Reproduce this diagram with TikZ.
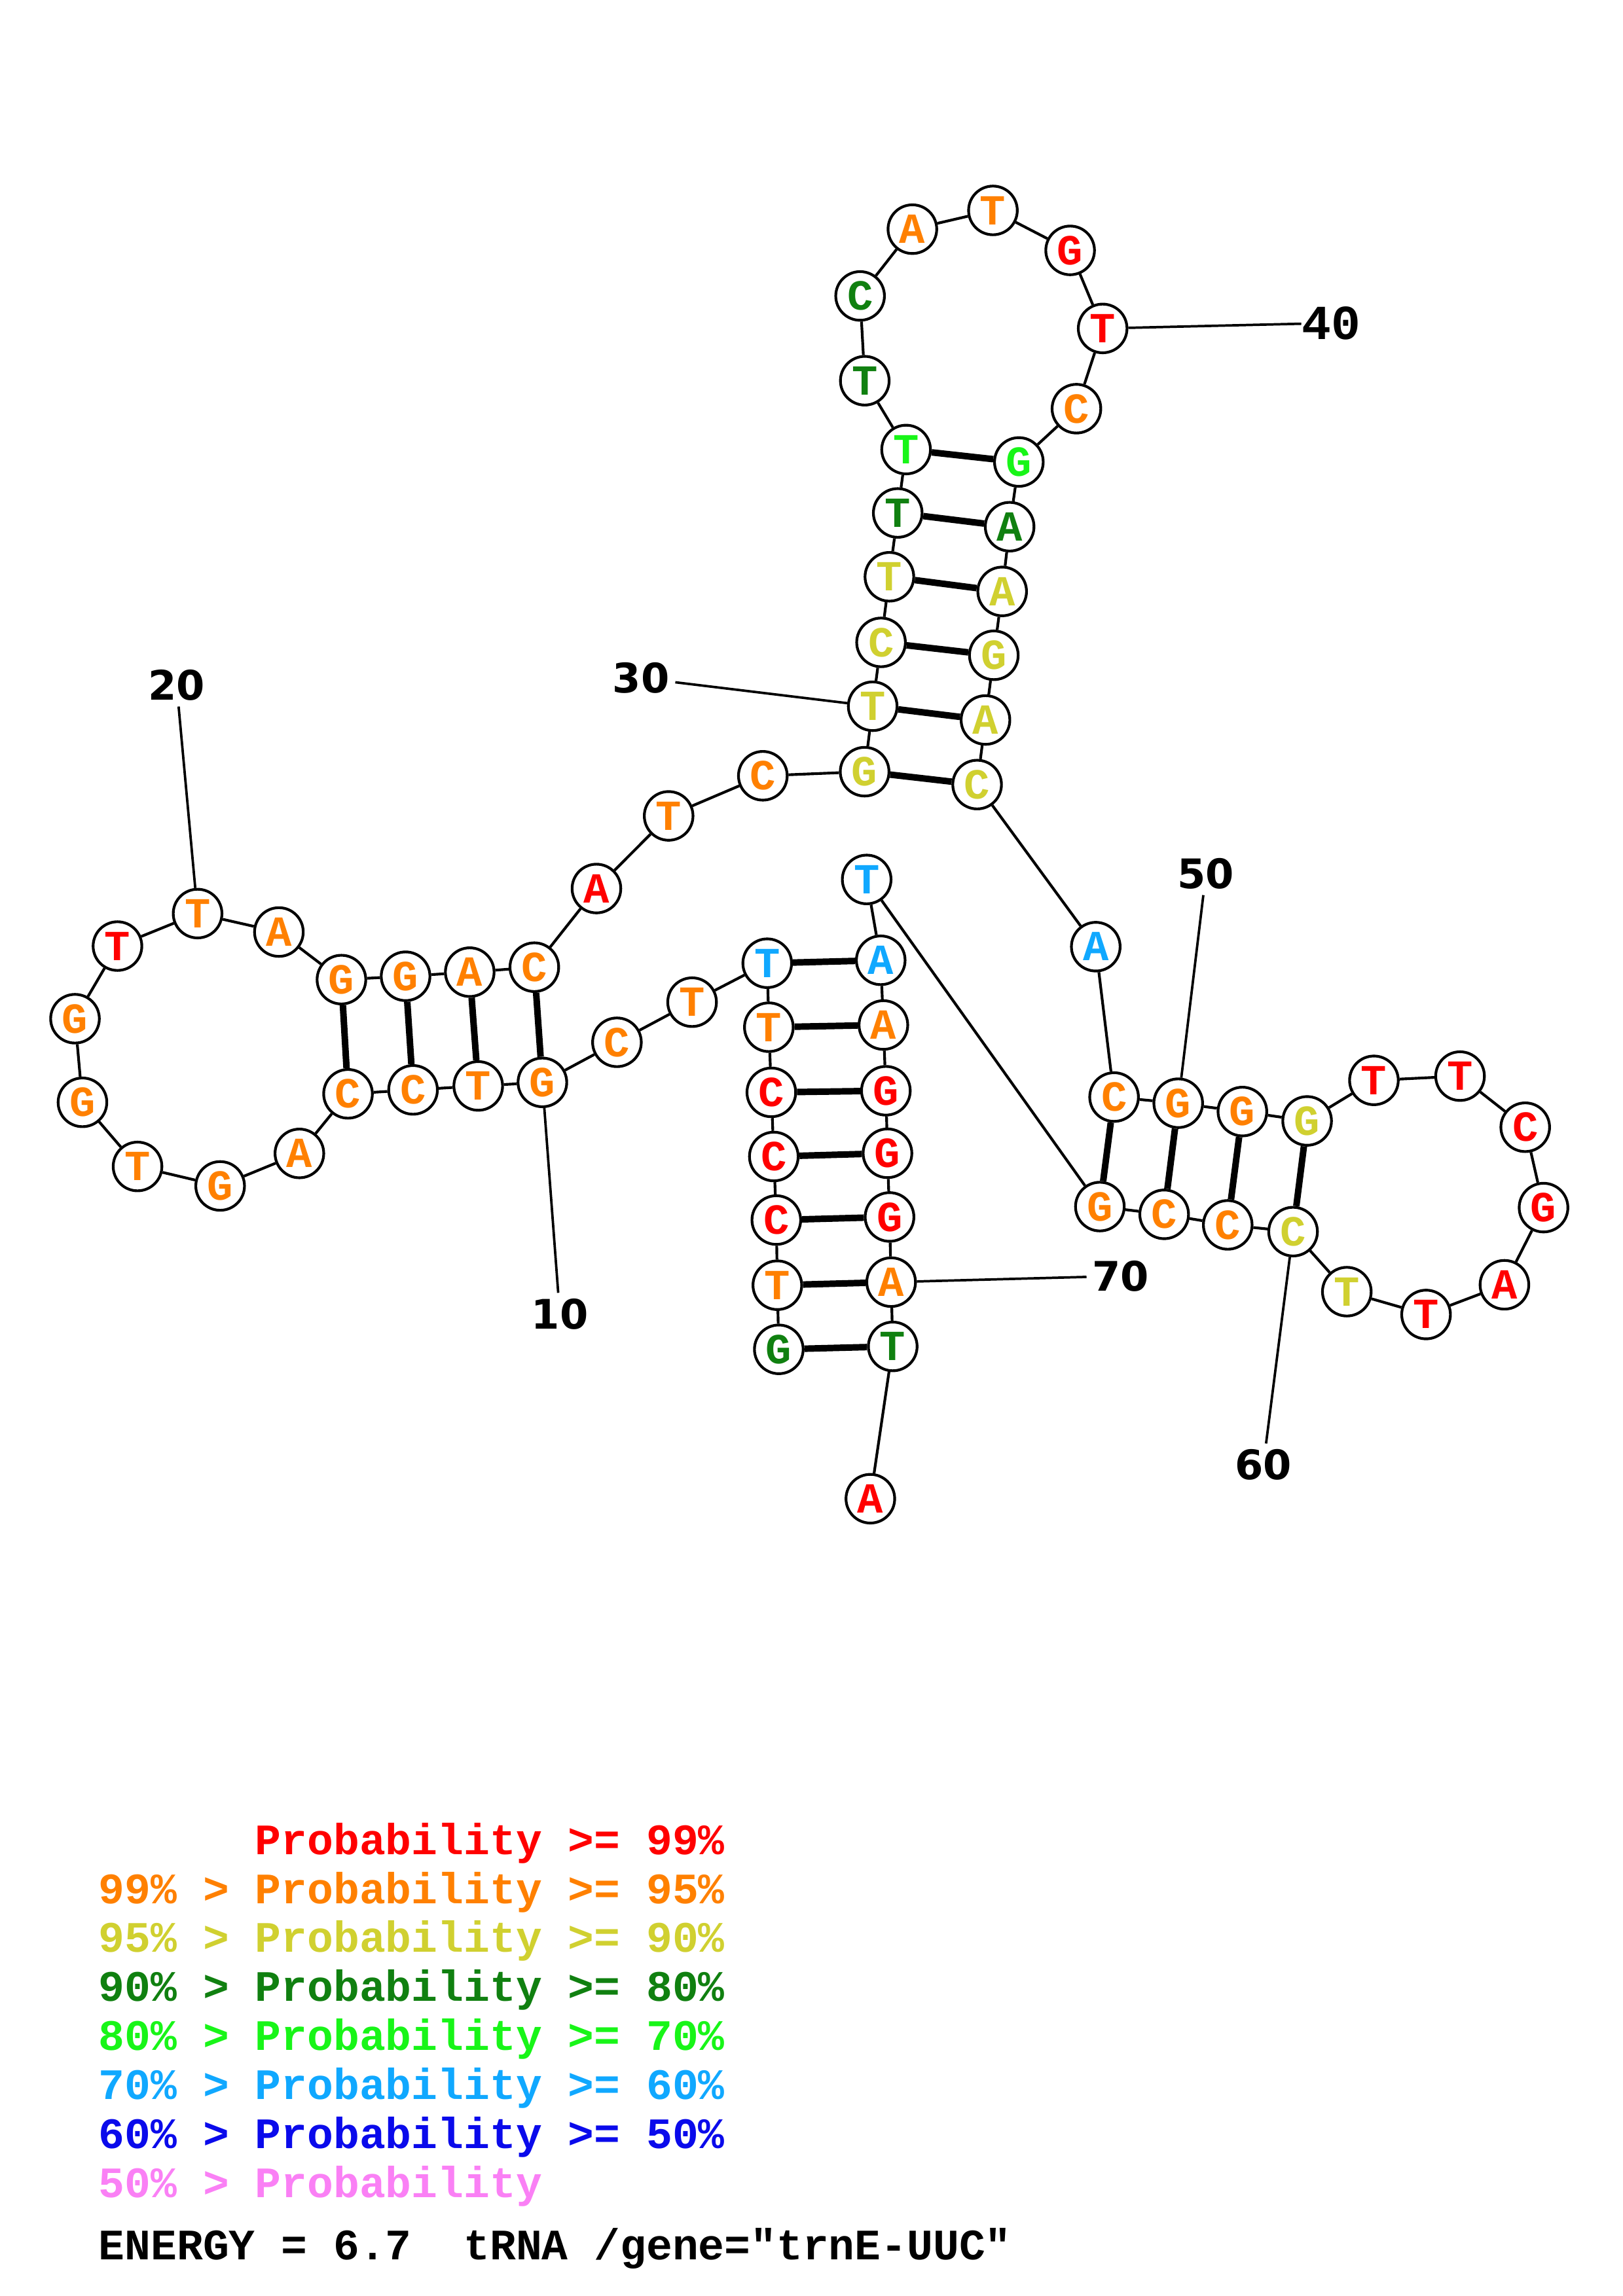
\documentclass[tikz,border=0pt]{standalone}
\usepackage{fontspec}
\newfontfamily\ntfont{Liberation Mono}
\newfontfamily\numfont{DejaVu Sans}
\definecolor{c99}{RGB}{255,0,0}
\definecolor{c95}{RGB}{255,128,0}
\definecolor{c90}{RGB}{208,208,48}
\definecolor{c80}{RGB}{16,128,16}
\definecolor{c70}{RGB}{24,245,24}
\definecolor{c60}{RGB}{16,168,255}
\definecolor{c50}{RGB}{10,10,235}
\definecolor{c00}{RGB}{250,128,245}
\tikzset{
    nt/.style={circle, draw, line width=1pt, minimum size=6.3mm, inner sep=0,
      font=\ntfont\bfseries\fontsize{15.8}{16}\selectfont},
    p99/.style={nt, text=c99},
    p95/.style={nt, text=c95},
    p90/.style={nt, text=c90},
    p80/.style={nt, text=c80},
    p70/.style={nt, text=c70},
    p60/.style={nt, text=c60},
    bb/.style = {line width=1pt},
    bp/.style = {line width=2.4pt},
    lead/.style= {line width=0.9pt},
  }

\begin{document}
\begin{tikzpicture}[x=0.018953cm, y=-0.018953cm,
    num/.style={inner sep=2pt, font=\numfont\bfseries\fontsize{15}{16}\selectfont},
    key/.style={anchor=base west, inner sep=0, font=\ntfont\bfseries\fontsize{16}{16}\selectfont}]
  \useasboundingbox (0,0) rectangle (1108,1568);
  % acceptor, 5' side
  \node (n1) [p80] at (531.7,921.5) {G};
  \node (n2) [p95] at (530.7,877.7) {T} edge [bb] (n1);
  \node (n3) [p99] at (530.0,833.2) {C} edge [bb] (n2);
  \node (n4) [p99] at (528.3,789.8) {C} edge [bb] (n3);
  \node (n5) [p99] at (526.6,746.0) {C} edge [bb] (n4);
  \node (n6) [p95] at (524.9,701.5) {T} edge [bb] (n5);
  \node (n7) [p60] at (523.8,657.8) {T} edge [bb] (n6);
  \node (n8) [p95] at (472.5,684.4) {T} edge [bb] (n7);
  \node (n9) [p95] at (421.2,711.8) {C} edge [bb] (n8);
  % D arm
  \node (n10) [p95] at (370.3,739.2) {G} edge [bb] (n9);
  \node (n11) [p95] at (326.5,741.6) {T} edge [bb] (n10);
  \node (n12) [p95] at (282.0,744.3) {C} edge [bb] (n11);
  \node (n13) [p95] at (237.6,747.0) {C} edge [bb] (n12);
  \node (n14) [p95] at (204.4,787.7) {A} edge [bb] (n13);
  \node (n15) [p95] at (150.3,809.9) {G} edge [bb] (n14);
  \node (n16) [p95] at (93.9,796.6) {T} edge [bb] (n15);
  \node (n17) [p95] at (56.3,752.8) {G} edge [bb] (n16);
  \node (n18) [p95] at (51.2,695.7) {G} edge [bb] (n17);
  \node (n19) [p99] at (80.2,646.1) {T} edge [bb] (n18);
  \node (n20) [p95] at (134.9,623.9) {T} edge [bb] (n19);
  \node (n21) [p95] at (190.4,636.5) {A} edge [bb] (n20);
  \node (n22) [p95] at (233.1,669.0) {G} edge [bb] (n21)
    edge [bp] (n13);
  \node (n23) [p95] at (276.9,666.7) {G} edge [bb] (n22)
    edge [bp] (n12);
  \node (n24) [p95] at (320.7,663.9) {A} edge [bb] (n23)
    edge [bp] (n11);
  \node (n25) [p95] at (364.8,660.5) {C} edge [bb] (n24)
    edge [bp] (n10);
  \node (n26) [p99] at (407.2,606.8) {A} edge [bb] (n25);
  \node (n27) [p95] at (456.5,557.2) {T} edge [bb] (n26);
  \node (n28) [p95] at (520.8,529.8) {C} edge [bb] (n27);
  % anticodon arm
  \node (n29) [p90] at (590.3,527.0) {G} edge [bb] (n28);
  \node (n30) [p90] at (595.8,482.3) {T} edge [bb] (n29);
  \node (n31) [p90] at (601.5,438.7) {C} edge [bb] (n30);
  \node (n32) [p90] at (607.2,393.9) {T} edge [bb] (n31);
  \node (n33) [p80] at (612.9,350.3) {T} edge [bb] (n32);
  \node (n34) [p70] at (618.6,307.0) {T} edge [bb] (n33);
  \node (n35) [p80] at (590.4,260.0) {T} edge [bb] (n34);
  \node (n36) [p80] at (587.2,202.1) {C} edge [bb] (n35);
  \node (n37) [p95] at (622.9,156.5) {A} edge [bb] (n36);
  \node (n38) [p95] at (677.9,143.7) {T} edge [bb] (n37);
  \node (n39) [p99] at (730.6,171.0) {G} edge [bb] (n38);
  \node (n40) [p99] at (752.8,224.3) {T} edge [bb] (n39);
  \node (n41) [p95] at (734.9,279.1) {C} edge [bb] (n40);
  \node (n42) [p70] at (695.6,315.5) {G} edge [bb] (n41)
    edge [bp] (n34);
  \node (n43) [p80] at (689.3,359.7) {A} edge [bb] (n42)
    edge [bp] (n33);
  \node (n44) [p90] at (684.2,403.9) {A} edge [bb] (n43)
    edge [bp] (n32);
  \node (n45) [p90] at (678.5,447.5) {G} edge [bb] (n44)
    edge [bp] (n31);
  \node (n46) [p90] at (672.8,491.7) {A} edge [bb] (n45)
    edge [bp] (n30);
  \node (n47) [p90] at (667.1,535.8) {C} edge [bb] (n46)
    edge [bp] (n29);
  \node (n48) [p60] at (748.1,646.5) {A} edge [bb] (n47);
  % T arm
  \node (n49) [p95] at (760.6,749.2) {C} edge [bb] (n48);
  \node (n50) [p95] at (804.4,753.4) {G} edge [bb] (n49);
  \node (n51) [p95] at (848.2,759.1) {G} edge [bb] (n50);
  \node (n52) [p90] at (892.4,765.5) {G} edge [bb] (n51);
  \node (n53) [p99] at (938.0,737.8) {T} edge [bb] (n52);
  \node (n54) [p99] at (996.8,734.9) {T} edge [bb] (n53);
  \node (n55) [p99] at (1041.3,769.8) {C} edge [bb] (n54);
  \node (n56) [p99] at (1053.8,824.7) {G} edge [bb] (n55);
  \node (n57) [p99] at (1027.1,877.4) {A} edge [bb] (n56);
  \node (n58) [p99] at (973.6,897.7) {T} edge [bb] (n57);
  \node (n59) [p90] at (919.5,882.1) {T} edge [bb] (n58);
  \node (n60) [p90] at (882.8,841.1) {C} edge [bb] (n59)
    edge [bp] (n52);
  \node (n61) [p95] at (838.2,836.5) {C} edge [bb] (n60)
    edge [bp] (n51);
  \node (n62) [p95] at (794.8,829.3) {C} edge [bb] (n61)
    edge [bp] (n50);
  \node (n63) [p95] at (750.9,824.0) {G} edge [bb] (n62)
    edge [bp] (n49);
  % acceptor, 3' side
  \node (n64) [p60] at (591.7,600.6) {T} edge [bb] (n63);
  \node (n65) [p60] at (601.3,655.8) {A} edge [bb] (n64)
    edge [bp] (n7);
  \node (n66) [p95] at (603.1,700.0) {A} edge [bb] (n65)
    edge [bp] (n6);
  \node (n67) [p99] at (604.8,744.9) {G} edge [bb] (n66)
    edge [bp] (n5);
  \node (n68) [p99] at (605.9,787.6) {G} edge [bb] (n67)
    edge [bp] (n4);
  \node (n69) [p99] at (607.3,831.1) {G} edge [bb] (n68)
    edge [bp] (n3);
  \node (n70) [p95] at (608.4,875.6) {A} edge [bb] (n69)
    edge [bp] (n2);
  \node (n71) [p80] at (609.5,919.5) {T} edge [bb] (n70)
    edge [bp] (n1);
  \node (n72) [p99] at (594.2,1023.5) {A} edge [bb] (n71);

  % position numbers
  \node (l10) [num] at (382.2,897.5) {10} edge [lead] (n10);
  \node (l20) [num] at (120.6,467.9) {20} edge [lead] (n20);
  \node (l30) [num] at (437.6,463.1) {30} edge [lead] (n30);
  \node (l40) [num, inner sep=0pt, font=\ntfont\bfseries\fontsize{18}{18}\selectfont]
    at (908.8,220.6) {40} edge [lead] (n40);
  \node (l50) [num] at (823.3,596.7) {50} edge [lead] (n50);
  \node (l60) [num] at (862.5,1000.4) {60} edge [lead] (n60);
  \node (l70) [num] at (765.2,871.4) {70} edge [lead] (n70);

  % legend
  \node (k99) [key, text=c99] at (67,1266.3) {\phantom{99\%~>~}Probability~>=~99\%};
  \node (k95) [key, text=c95] at (67,1299.8) {99\%~>~Probability~>=~95\%};
  \node (k90) [key, text=c90] at (67,1333.3) {95\%~>~Probability~>=~90\%};
  \node (k80) [key, text=c80] at (67,1366.8) {90\%~>~Probability~>=~80\%};
  \node (k70) [key, text=c70] at (67,1400.3) {80\%~>~Probability~>=~70\%};
  \node (k60) [key, text=c60] at (67,1433.8) {70\%~>~Probability~>=~60\%};
  \node (k50) [key, text=c50] at (67,1467.3) {60\%~>~Probability~>=~50\%};
  \node (k00) [key, text=c00] at (67,1500.8) {50\%~>~Probability};
  \node (energy) [key] at (67,1543) {ENERGY~=~6.7~~tRNA~/gene="trnE-UUC"};
\end{tikzpicture}
\end{document}
